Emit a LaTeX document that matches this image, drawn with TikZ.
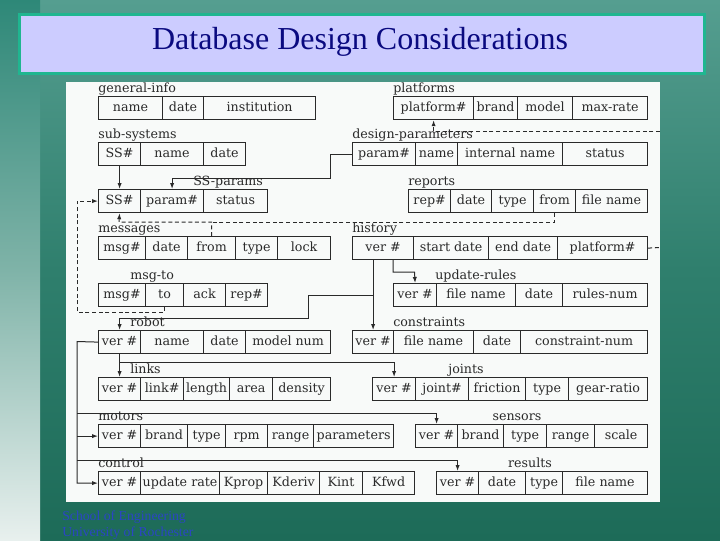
\documentclass[tikz,border=0pt]{standalone}
\usepackage{fontspec}
\setmainfont{Liberation Serif}
\newfontfamily\dvs{DejaVu Serif}
\usetikzlibrary{arrows.meta}
\definecolor{bgtop}{HTML}{559E90}
\definecolor{bgmid}{HTML}{2F7F6D}
\definecolor{bgbot}{HTML}{1D6B58}
\definecolor{striptop}{HTML}{2E8878}
\definecolor{stripmid}{HTML}{7FB3A8}
\definecolor{stripbot}{HTML}{E8F0EE}
\definecolor{titlefill}{HTML}{CCCCFF}
\definecolor{titleedge}{HTML}{1FB690}
\definecolor{titletext}{HTML}{0A0A80}
\definecolor{ink}{HTML}{2A2A2A}
\definecolor{panel}{HTML}{F8FAF9}
\definecolor{footblue}{HTML}{2B45C4}
\newcommand\cel[5]{\node[cell, minimum width={(#3-#2)*0.75pt}] (#1) at (#2,#4) {#5};}
\begin{document}
\begin{tikzpicture}[x=0.75pt,y=-0.75pt,
  cell/.style={draw=ink, line width=0.9pt, inner sep=0pt, minimum height=17.25pt,
    anchor=north west, font=\dvs\fontsize{9.5}{11}\selectfont, text=ink,
    text height=0.72em, text depth=0.2em},
  lbl/.style={font=\dvs\fontsize{9.5}{11}\selectfont, text=ink, inner sep=0pt, anchor=base west},
  clbl/.style={lbl, anchor=base},
  link/.style={draw=ink, line width=0.75pt},
  conn/.style={link, -{Latex[length=4.5pt,width=3.2pt]}},
  dlink/.style={link, dash pattern=on 3pt off 2pt},
  dconn/.style={dlink, -{Latex[length=4.5pt,width=3.2pt]}}]
\useasboundingbox (0,0) rectangle (720,540);
% background
\shade[top color=bgtop, bottom color=bgbot, middle color=bgmid] (0,0) rectangle (720,540);
\shade[top color=striptop, bottom color=stripbot, middle color=stripmid] (0,0) rectangle (40,540);
% title
\node[draw=titleedge, fill=titlefill, line width=2.6pt, minimum width={685*0.75pt},
  minimum height={59*0.75pt}, anchor=north west, inner sep=0pt] (tbox) at (18,13) {};
\node[font=\fontsize{24}{28}\selectfont, text=titletext] (title) at (360,42) {Database Design Considerations};
% panel
\fill[panel] (66,82) rectangle (660,502);
% footer
\node[font=\fontsize{10.3}{12}\selectfont, text=footblue, anchor=west, inner sep=0pt] (foot1) at (62,517) {School of Engineering};
\node[font=\fontsize{10.3}{12}\selectfont, text=footblue, anchor=west, inner sep=0pt] (foot2) at (62,533) {University of Rochester};

% general-info
\node[lbl] (gi-l) at (98,92.5) {general-info};
\cel{gi-name}{98}{162}{96}{name}
\cel{gi-date}{162}{203}{96}{date}
\cel{gi-inst}{203}{315}{96}{institution}
% platforms
\node[lbl] (p-l) at (393,92.5) {platforms};
\cel{p-plat}{393}{473}{96}{platform\#}
\cel{p-brand}{473}{517}{96}{brand}
\cel{p-model}{517}{572}{96}{model}
\cel{p-rate}{572}{647}{96}{max-rate}
% sub-systems
\node[lbl] (ss-l) at (98,138.5) {sub-systems};
\cel{ss-ss}{98}{140}{142}{SS\#}
\cel{ss-name}{140}{203}{142}{name}
\cel{ss-date}{203}{245}{142}{date}
% design-parameters
\node[lbl] (dp-l) at (352,138.5) {design-parameters};
\cel{dp-param}{352}{415}{142}{param\#}
\cel{dp-name}{415}{457}{142}{name}
\cel{dp-int}{457}{562}{142}{internal name}
\cel{dp-stat}{562}{647}{142}{status}
% SS-params
\node[lbl] (sp-l) at (193,185.5) {SS-params};
\cel{sp-ss}{98}{140}{189}{SS\#}
\cel{sp-param}{140}{203}{189}{param\#}
\cel{sp-stat}{203}{267}{189}{status}
% reports
\node[lbl] (r-l) at (408,185.5) {reports};
\cel{r-rep}{408}{450}{189}{rep\#}
\cel{r-date}{450}{491}{189}{date}
\cel{r-type}{491}{533}{189}{type}
\cel{r-from}{533}{575}{189}{from}
\cel{r-file}{575}{647}{189}{file name}
% messages
\node[lbl] (m-l) at (98,232.5) {messages};
\cel{m-msg}{98}{145}{236}{msg\#}
\cel{m-date}{145}{187}{236}{date}
\cel{m-from}{187}{235}{236}{from}
\cel{m-type}{235}{277}{236}{type}
\cel{m-lock}{277}{330}{236}{lock}
% history
\node[lbl] (h-l) at (352,232.5) {history};
\cel{h-ver}{352}{413}{236}{ver \#}
\cel{h-start}{413}{488}{236}{start date}
\cel{h-end}{488}{557}{236}{end date}
\cel{h-plat}{557}{647}{236}{platform\#}
% msg-to
\node[lbl] (mt-l) at (130,279.5) {msg-to};
\cel{mt-msg}{98}{145}{283}{msg\#}
\cel{mt-to}{145}{183}{283}{to}
\cel{mt-ack}{183}{225}{283}{ack}
\cel{mt-rep}{225}{267}{283}{rep\#}
% update-rules
\node[lbl] (ur-l) at (435,279.5) {update-rules};
\cel{ur-ver}{393}{436}{283}{ver \#}
\cel{ur-file}{436}{515}{283}{file name}
\cel{ur-date}{515}{562}{283}{date}
\cel{ur-num}{562}{647}{283}{rules-num}
% robot
\node[lbl] (rb-l) at (130,326.5) {robot};
\cel{rb-ver}{98}{140}{330}{ver \#}
\cel{rb-name}{140}{203}{330}{name}
\cel{rb-date}{203}{245}{330}{date}
\cel{rb-model}{245}{330}{330}{model num}
% constraints
\node[lbl] (c-l) at (393,326.5) {constraints};
\cel{c-ver}{352}{393}{330}{ver \#}
\cel{c-file}{393}{473}{330}{file name}
\cel{c-date}{473}{520}{330}{date}
\cel{c-num}{520}{647}{330}{constraint-num}
% links
\node[lbl] (l-l) at (130,373.5) {links};
\cel{l-ver}{98}{140}{377}{ver \#}
\cel{l-link}{140}{183}{377}{link\#}
\cel{l-len}{183}{229}{377}{length}
\cel{l-area}{229}{272}{377}{area}
\cel{l-dens}{272}{330}{377}{density}
% joints
\node[clbl] (j-l) at (466,373.5) {joints};
\cel{j-ver}{372}{415}{377}{ver \#}
\cel{j-joint}{415}{468}{377}{joint\#}
\cel{j-fric}{468}{525}{377}{friction}
\cel{j-type}{525}{568}{377}{type}
\cel{j-gear}{568}{647}{377}{gear-ratio}
% motors
\node[lbl] (mo-l) at (98,420.5) {motors};
\cel{mo-ver}{98}{140}{424}{ver \#}
\cel{mo-brand}{140}{187}{424}{brand}
\cel{mo-type}{187}{225}{424}{type}
\cel{mo-rpm}{225}{267}{424}{rpm}
\cel{mo-range}{267}{313}{424}{range}
\cel{mo-par}{313}{393}{424}{parameters}
% sensors
\node[clbl] (se-l) at (517,420.5) {sensors};
\cel{se-ver}{415}{457}{424}{ver \#}
\cel{se-brand}{457}{503}{424}{brand}
\cel{se-type}{503}{546}{424}{type}
\cel{se-range}{546}{594}{424}{range}
\cel{se-scale}{594}{647}{424}{scale}
% control
\node[lbl] (ct-l) at (98,467.5) {control};
\cel{ct-ver}{98}{140}{471}{ver \#}
\cel{ct-upd}{140}{219}{471}{update rate}
\cel{ct-kp}{219}{267}{471}{Kprop}
\cel{ct-kd}{267}{319}{471}{Kderiv}
\cel{ct-ki}{319}{362}{471}{Kint}
\cel{ct-kf}{362}{414}{471}{Kfwd}
% results
\node[clbl] (re-l) at (530,467.5) {results};
\cel{re-ver}{436}{478}{471}{ver \#}
\cel{re-date}{478}{525}{471}{date}
\cel{re-type}{525}{562}{471}{type}
\cel{re-file}{562}{647}{471}{file name}

% connectors
\draw[conn] (ss-ss.south) -- (sp-ss.north);
\coordinate (a2) at (330,178);
\draw[conn] (dp-param.west) -| (a2) -| (sp-param.north);
\coordinate (a3) at (77,312);
\draw[dconn] (mt-to.south) |- (a3) |- (sp-ss.west);
\coordinate (a4) at (119,222);
\draw[dconn] (m-from.north) |- (a4) -- (sp-ss.south);
\draw[dlink] (r-from.south) |- (m-from.north |- a4);
\coordinate (e5) at (660,247.5);
\draw[dlink] (h-plat.east) -- (e5);
\coordinate (s5) at (660,131);
\draw[dconn] (s5) -| (p-plat.south);
\draw[conn] (h-ver.south -| c-ver.north) -- (c-ver.north);
\coordinate (a6) at (414.5,272);
\draw[conn] (h-ver.south -| ur-ver.west) |- (a6) -- (ur-ver.north);
\coordinate (a7a) at (308,295);
\coordinate (a7b) at (308,318);
\draw[conn] (c-ver.north |- a7a) -- (a7a) -- (a7b) -| (rb-ver.north);
\draw[conn] (rb-ver.south) -- (l-ver.north);
\coordinate (a8) at (119,362);
\draw[conn] (a8) -| (j-ver.north);
\coordinate (a9) at (77,341.5);
\draw[conn] (rb-ver.west) -- (a9) |- (ct-ver.west);
\draw[conn] (mo-ver.west -| a9) -- (mo-ver.west);
\coordinate (b1) at (77,413);
\draw[conn] (b1) -| (se-ver.north);
\coordinate (b2) at (77,460);
\draw[conn] (b2) -| (re-ver.north);
\end{tikzpicture}
\end{document}
